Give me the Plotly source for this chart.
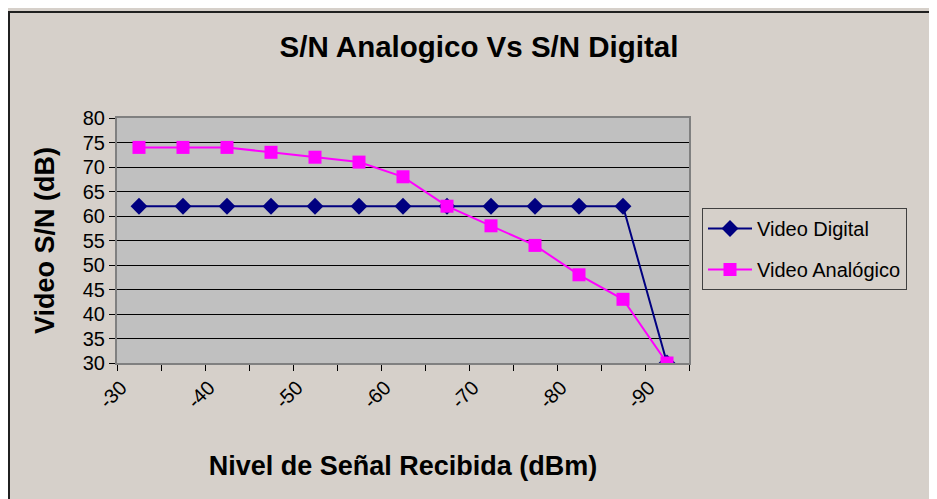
import plotly.graph_objects as go

categories = [-30, -35, -40, -45, -50, -55, -60, -65, -70, -75, -80, -85, -90]
digital = [62, 62, 62, 62, 62, 62, 62, 62, 62, 62, 62, 62, 30]
analog = [74, 74, 74, 73, 72, 71, 68, 62, 58, 54, 48, 43, 30]
x_labels = [-30, -40, -50, -60, -70, -80, -90]
y_ticks = list(range(30, 85, 5))

W, H = 929, 491
ml, mt = 109, 110
plot_r, plot_b = 681, 355
mr, mb = W - plot_r, H - plot_b
pw, ph = plot_r - ml, plot_b - mt

fig = go.Figure()
fig.add_trace(go.Scatter(x=categories, y=digital, name="Video Digital", mode="lines+markers",
                         line=dict(color="#000080", width=2),
                         marker=dict(symbol="diamond", size=13, color="#000080"),
                         legendgroup="a"))
fig.add_trace(go.Scatter(x=categories, y=analog, name="Video Analógico", mode="lines+markers",
                         line=dict(color="#FF00FF", width=2),
                         marker=dict(symbol="square", size=13, color="#FF00FF"),
                         legendgroup="b"))

step = categories[1] - categories[0]
bounds = [c - step / 2 for c in categories] + [categories[-1] + step / 2]

def px2paper_x(px):
    return (px - ml) / pw

def px2paper_y(py):
    return (plot_b - py) / ph

bg = "#d6d0ca"
fig.update_layout(
    width=W, height=H,
    margin=dict(l=ml, r=mr, t=mt, b=mb),
    paper_bgcolor=bg,
    plot_bgcolor="#c0c0c0",
    font=dict(family="Liberation Sans, Arial", color="black", size=20),
    title=dict(text="<b>S/N Analogico Vs S/N Digital</b>", x=px2paper_x(471), xref="paper",
               xanchor="center", y=1 - 39 / H, yanchor="middle", font=dict(size=29.5)),
    xaxis=dict(range=[bounds[0], bounds[-1]], tickvals=x_labels, ticktext=[str(v) for v in x_labels],
               tickangle=-45, ticks="", showgrid=False, zeroline=False,
               ticklabelshift=18, ticklabelstandoff=3,
               showline=True, linecolor="#808080", linewidth=2, mirror=True,
               minor=dict(tickvals=bounds, ticks="outside", ticklen=6, tickcolor="black", showgrid=False),
               title=dict(text="<b>Nivel de Señal Recibida (dBm)</b>", font=dict(size=27), standoff=45),
               tickfont=dict(size=20)),
    yaxis=dict(range=[30, 80], tickvals=y_ticks, ticks="outside", ticklen=6, tickcolor="black",
               showgrid=True, gridcolor="black", gridwidth=1, zeroline=False,
               showline=True, linecolor="#808080", linewidth=2, mirror=True,
               title=dict(text="<b>Video S/N (dB)</b>", font=dict(size=27), standoff=20),
               tickfont=dict(size=20)),
    legend=dict(x=px2paper_x(694), y=px2paper_y(200), xanchor="left", yanchor="top",
                bgcolor=bg, bordercolor="#404040", borderwidth=1, itemwidth=44,
                font=dict(size=20), tracegroupgap=12, traceorder="grouped"),
    shapes=[
        dict(type="line", xref="paper", yref="paper",
             x0=px2paper_x(1), x1=px2paper_x(W + 10), y0=px2paper_y(4), y1=px2paper_y(4),
             line=dict(color="#202020", width=2), layer="below"),
        dict(type="line", xref="paper", yref="paper",
             x0=px2paper_x(1), x1=px2paper_x(1), y0=px2paper_y(3), y1=px2paper_y(H + 10),
             line=dict(color="#202020", width=2), layer="below"),
    ],
)

fig.write_html("out.html")
